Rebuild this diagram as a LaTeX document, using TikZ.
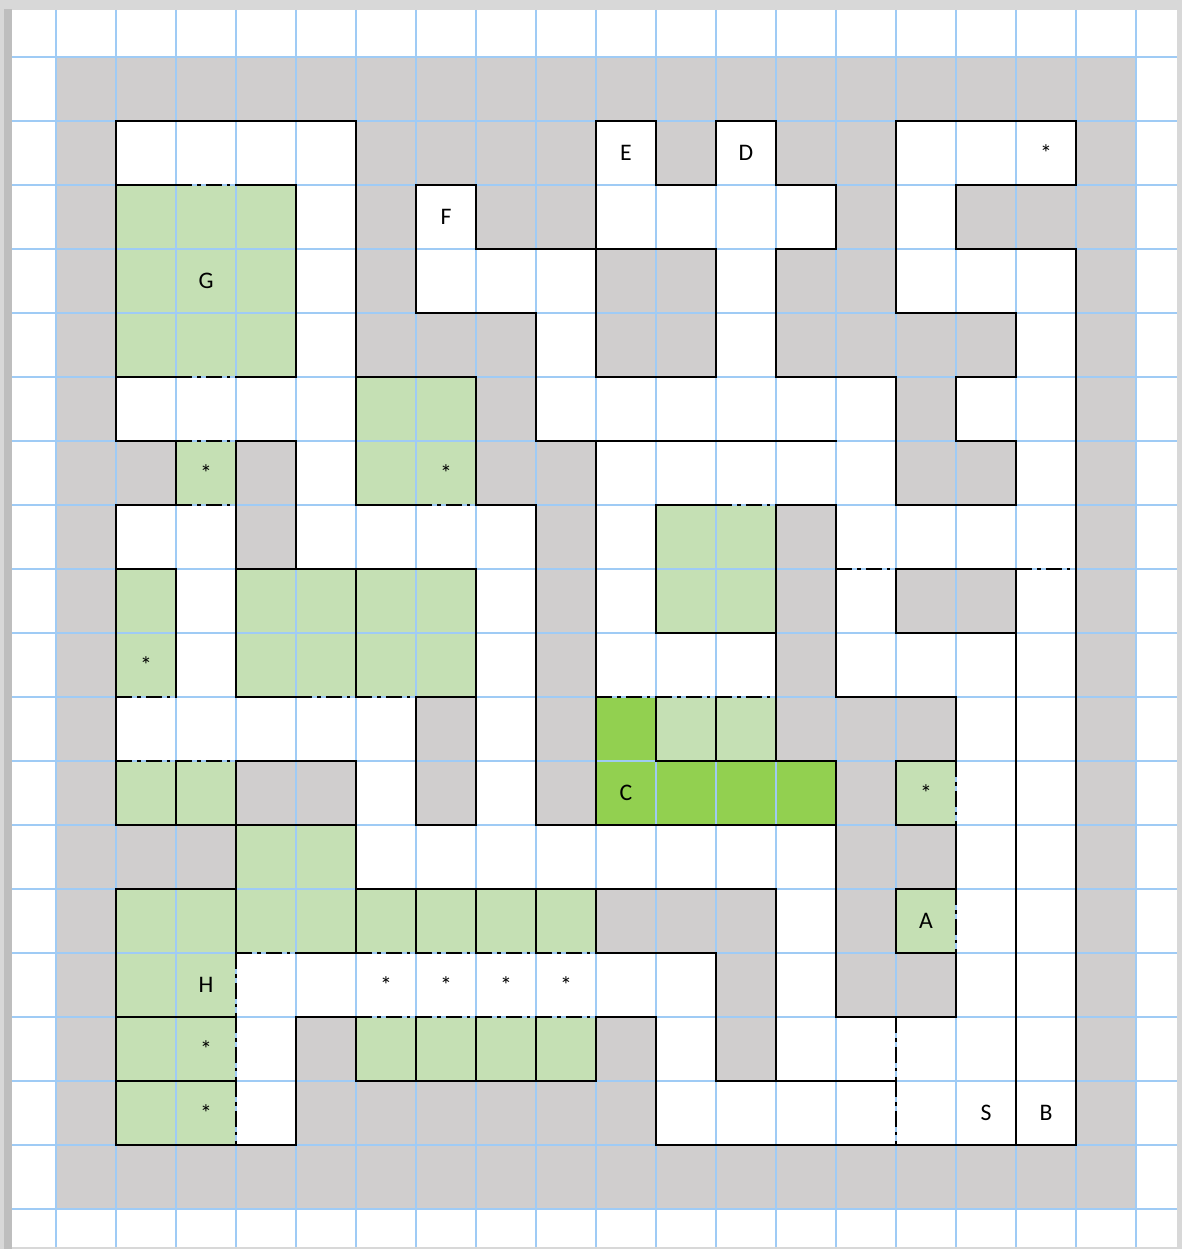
\documentclass[tikz,border=0pt]{standalone}
\usepackage{fontspec}
\setmainfont{Carlito}
\usetikzlibrary{positioning}
\definecolor{rock}{HTML}{D0CECE}
\definecolor{moss}{HTML}{C5E0B4}
\definecolor{grass}{HTML}{92D050}
\definecolor{paperline}{HTML}{9FCBF5}
\definecolor{framegray}{HTML}{D8D8D8}
\definecolor{frameedge}{HTML}{BEBEBE}
\tikzset{
  wall/.style={line width=1.15pt, draw=black, line cap=rect},
  door/.style={line width=1.3pt, draw=black,
               dash pattern=on 9pt off 3pt on 2pt off 3pt},
  gridln/.style={line width=1.35pt, draw=paperline},
  lbl/.style={font=\fontsize{13.5}{15}\selectfont, text=black, inner sep=0pt},
}

\begin{document}
\begin{tikzpicture}[x=1.2cm, y=-1.28cm]
  \useasboundingbox (-1.9333,-1.8906) rectangle (17.7667,17.625);
  % sheet with its frame
  \fill[framegray] (-1.9333,-1.8906) rectangle (17.7667,17.625);
  \fill[frameedge] (-1.8667,-1.75) rectangle (-1.7333,17.625);
  \fill[white] (-1.7333,-1.7344) rectangle (17.6833,17.5938);
  % rock everywhere, then the open cells (column/row/length)
  \fill[rock] (-1,-1) rectangle (17,17);
  \foreach \col/\row/\len in {0/0/4, 8/0/1, 10/0/1, 13/0/3,
      3/1/1, 5/1/1, 8/1/4, 13/1/1,
      3/2/1, 5/2/3, 10/2/1, 13/2/3,
      3/3/1, 7/3/1, 10/3/1, 15/3/1,
      0/4/4, 7/4/6, 14/4/2,
      3/5/1, 8/5/5, 15/5/1,
      0/6/2, 3/6/4, 8/6/1, 12/6/4,
      1/7/1, 6/7/1, 8/7/1, 12/7/1, 15/7/1,
      1/8/1, 6/8/1, 8/8/3, 12/8/4,
      0/9/5, 6/9/1, 14/9/2,
      4/10/1, 6/10/1, 14/10/2,
      4/11/8, 14/11/2,
      11/12/1, 14/12/2,
      2/13/8, 11/13/1, 14/13/2,
      2/14/1, 9/14/1, 11/14/5,
      2/15/1, 9/15/7}
    \fill[white] (\col,\row) rectangle ++(\len,1);
  \foreach \col/\row/\len in {0/1/3, 0/2/3, 0/3/3,
      4/4/2, 1/5/1, 4/5/2, 9/6/2,
      0/7/1, 2/7/4, 9/7/2, 0/8/1, 2/8/4,
      9/9/2, 0/10/2, 13/10/1, 2/11/2,
      0/12/8, 13/12/1, 0/13/2,
      0/14/2, 4/14/4, 0/15/2}
    \fill[moss] (\col,\row) rectangle ++(\len,1);
  \foreach \col/\row/\len in {8/9/1, 8/10/4}
    \fill[grass] (\col,\row) rectangle ++(\len,1);
  % squared paper
  \foreach \i in {-1,...,17} {
    \draw[gridln] (\i,-1.7344) -- (\i,17.5938);
    \draw[gridln] (-1.7333,\i) -- (17.6833,\i);
  }
  % walls: horizontal (row line/from/to), then vertical (column line/from/to)
  \foreach \y/\a/\b in {0/0/4, 0/8/9, 0/10/11, 0/13/16,
      1/0/1, 1/2/3, 1/5/6, 1/9/10, 1/11/12, 1/14/16,
      2/6/10, 2/11/12, 2/14/16,
      3/5/7, 3/13/15,
      4/0/1, 4/2/3, 4/4/6, 4/8/10, 4/11/13, 4/14/15,
      5/0/1, 5/2/3, 5/7/12, 5/14/15,
      6/0/1, 6/4/5, 6/6/7, 6/9/10, 6/11/12, 6/13/15,
      7/0/1, 7/2/6, 7/13/15,
      8/9/11, 8/13/15,
      9/2/3, 9/5/6, 9/12/14,
      10/2/4, 10/9/12, 10/13/14,
      11/0/4, 11/5/6, 11/7/12, 11/13/14,
      12/0/2, 12/4/11, 12/13/14,
      13/3/4, 13/8/10, 13/13/14,
      14/0/2, 14/3/4, 14/8/9, 14/12/14,
      15/0/2, 15/4/8, 15/10/13,
      16/0/3, 16/9/16}
    \draw[wall] (\a,\y) -- (\b,\y);
  \foreach \x/\a/\b in {0/0/5, 0/6/11, 0/12/16,
      1/5/6, 1/7/9, 1/10/11,
      2/5/9, 2/10/13,
      3/1/4, 3/5/7, 3/14/16,
      4/0/6, 4/7/9, 4/10/13, 4/14/15,
      5/1/3, 5/9/11, 5/12/13, 5/14/15,
      6/1/2, 6/4/6, 6/7/11, 6/12/13, 6/14/15,
      7/3/5, 7/6/11, 7/12/13, 7/14/15,
      8/0/4, 8/5/11, 8/12/13, 8/14/15,
      9/0/1, 9/6/8, 9/9/10, 9/14/16,
      10/0/1, 10/2/4, 10/9/10, 10/13/15,
      11/0/1, 11/2/4, 11/6/10, 11/12/15,
      12/1/2, 12/6/9, 12/10/14,
      13/0/3, 13/4/6, 13/7/8, 13/10/11, 13/12/13,
      14/1/2, 14/4/5, 14/9/10, 14/11/12, 14/13/14,
      15/3/4, 15/5/6, 15/7/16,
      16/0/1, 16/2/16}
    \draw[wall] (\x,\a) -- (\x,\b);
  % doors, one cell side each
  \foreach \y/\a in {1/1, 4/1, 5/1, 6/1, 6/5, 6/10, 7/12, 7/15,
      9/0, 9/3, 9/4, 9/8, 9/9, 9/10, 10/0, 10/1,
      13/2, 13/4, 13/5, 13/6, 13/7, 14/4, 14/5, 14/6, 14/7}
    \draw[door] (\a,\y) -- ++(1,0);
  \foreach \x/\a in {2/13, 2/14, 2/15, 13/14, 13/15, 14/10, 14/12}
    \draw[door] (\x,\a) -- ++(0,1);
  % letters and stars
  \node[lbl] (lblE) at (8.5,0.5) {E};
  \node[lbl] (lblD) at (10.5,0.5) {D};
  \node[lbl] (starNE) at (15.5,0.5) {*};
  \node[lbl] (lblF) at (5.5,1.5) {F};
  \node[lbl] (lblG) at (1.5,2.5) {G};
  \node[lbl] (starG) at (1.5,5.5) {*};
  \node[lbl] (starMid) at (5.5,5.5) {*};
  \node[lbl] (starW) at (0.5,8.5) {*};
  \node[lbl] (lblC) at (8.5,10.5) {C};
  \node[lbl] (starE) at (13.5,10.5) {*};
  \node[lbl] (lblA) at (13.5,12.5) {A};
  \node[lbl] (lblH) at (1.5,13.5) {H};
  \node[lbl] (starH1) at (1.5,14.5) {*};
  \node[lbl] (starH2) at (1.5,15.5) {*};
  \foreach \col in {4,...,7}
    \node[lbl] (starRow\col) at (\col+0.5,13.5) {*};
  \node[lbl] (lblS) at (14.5,15.5) {S};
  \node[lbl] (lblB) at (15.5,15.5) {B};
\end{tikzpicture}
\end{document}
